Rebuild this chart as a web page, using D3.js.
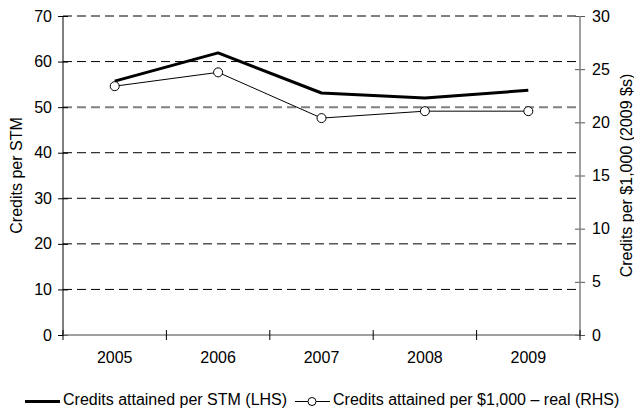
<!DOCTYPE html>
<html><head><meta charset="utf-8">
<script src="https://cdn.jsdelivr.net/npm/d3@7"></script>
<style>body{margin:0;background:#fff}svg{display:block;font-family:"Liberation Sans",Arial,sans-serif}</style>
</head><body><svg id="c" width="634" height="411"></svg>
<script>
const years = ["2005","2006","2007","2008","2009"];
const creditsPerSTM = [55.7, 61.9, 53.1, 52.0, 53.7];
const creditsPer1000 = [23.4, 24.7, 20.4, 21.05, 21.05];
const leftTicks = [0,10,20,30,40,50,60,70];
const rightTicks = [0,5,10,15,20,25,30];
const seriesNames = ["Credits attained per STM (LHS)", "Credits attained per $1,000 \u2013 real (RHS)"];

const svg = d3.select("#c");
const L = 63, R = 580, T = 16, B = 335;
const x = d3.scaleBand().domain(years).range([L, R]);
const yL = d3.scaleLinear().domain([0,70]).range([B, T]);
const yR = d3.scaleLinear().domain([0,30]).range([B, T]);
const fs = 16;
const ff = "Liberation Sans, Arial, sans-serif";

// gridlines
svg.append("g").selectAll("line").data(leftTicks.filter(d=>d>0)).join("line")
  .attr("x1", L).attr("x2", R).attr("y1", d=>yL(d)).attr("y2", d=>yL(d))
  .attr("stroke", d=> d===50 ? "#808080" : "#000")
  .attr("stroke-width", d=> d===50 ? 2 : 1)
  .attr("stroke-dasharray", "9,5");

// left axis
const gl = svg.append("g").attr("transform", `translate(${L},0)`)
  .call(d3.axisLeft(yL).tickValues(leftTicks).tickSize(5).tickPadding(6));
gl.select(".domain").remove();
gl.selectAll(".tick line").attr("x1", 5).attr("x2", -5).attr("stroke", "#000");
gl.selectAll("text").attr("font-size", fs).attr("fill", "#000").attr("font-family", ff);
svg.append("line").attr("x1", L).attr("x2", L).attr("y1", T).attr("y2", B).attr("stroke", "#000");

// right axis
const gr = svg.append("g").attr("transform", `translate(${R},0)`)
  .call(d3.axisRight(yR).tickValues(rightTicks).tickSize(5).tickPadding(7));
gr.select(".domain").remove();
gr.selectAll(".tick line").attr("x1", -5).attr("x2", 5).attr("stroke", "#555");
gr.selectAll("text").attr("font-size", fs).attr("fill", "#000").attr("font-family", ff);
svg.append("line").attr("x1", R).attr("x2", R).attr("y1", T).attr("y2", B).attr("stroke", "#808080").attr("stroke-width", 1.5);

// bottom axis
const gb = svg.append("g").attr("transform", `translate(0,${B})`)
  .call(d3.axisBottom(x).tickSize(0).tickPadding(17));
gb.select(".domain").remove();
gb.selectAll("text").attr("font-size", fs).attr("fill", "#000").attr("font-family", ff);
svg.append("line").attr("x1", L).attr("x2", R).attr("y1", B).attr("y2", B).attr("stroke", "#808080").attr("stroke-width", 1.5);
const bounds = years.map(d => x(d)).concat([x(years[years.length-1]) + x.bandwidth()]);
svg.append("g").selectAll("line").data(bounds).join("line")
  .attr("x1", d=>d).attr("x2", d=>d).attr("y1", B-5).attr("y2", B+5)
  .attr("stroke", "#000").attr("stroke-width", 1);

const cx = d => x(d) + x.bandwidth()/2;

// thick line (LHS)
svg.append("path").datum(years.map((d,i)=>[cx(d), yL(creditsPerSTM[i])]))
  .attr("d", d3.line()).attr("fill","none").attr("stroke","#000").attr("stroke-width",3).attr("stroke-linejoin","round");

// thin line with markers (RHS)
svg.append("path").datum(years.map((d,i)=>[cx(d), yR(creditsPer1000[i])]))
  .attr("d", d3.line()).attr("fill","none").attr("stroke","#000").attr("stroke-width",1);
svg.append("g").selectAll("circle").data(years).join("circle")
  .attr("cx", d=>cx(d)).attr("cy", (d,i)=>yR(creditsPer1000[i])).attr("r", 4.5)
  .attr("fill","#fff").attr("stroke","#000").attr("stroke-width",1);

// axis titles
svg.append("text").attr("transform", `translate(22,${(T+B)/2}) rotate(-90)`)
  .attr("text-anchor","middle").attr("font-size", fs).text("Credits per STM");
svg.append("text").attr("transform", `translate(632,${(T+B)/2}) rotate(-90)`)
  .attr("text-anchor","middle").attr("font-size", fs).text("Credits per $1,000 (2009 $s)");

// legend
const ly = 401.5;
svg.append("line").attr("x1",25).attr("x2",60).attr("y1",ly).attr("y2",ly).attr("stroke","#000").attr("stroke-width",3);
svg.append("text").attr("x",63).attr("y",405).attr("font-size",fs).text(seriesNames[0]);
svg.append("line").attr("x1",295).attr("x2",330).attr("y1",ly).attr("y2",ly).attr("stroke","#000").attr("stroke-width",1);
svg.append("circle").attr("cx",312).attr("cy",ly).attr("r",4).attr("fill","#fff").attr("stroke","#000");
svg.append("text").attr("x",333).attr("y",405).attr("font-size",fs).text(seriesNames[1]);
</script></body></html>
